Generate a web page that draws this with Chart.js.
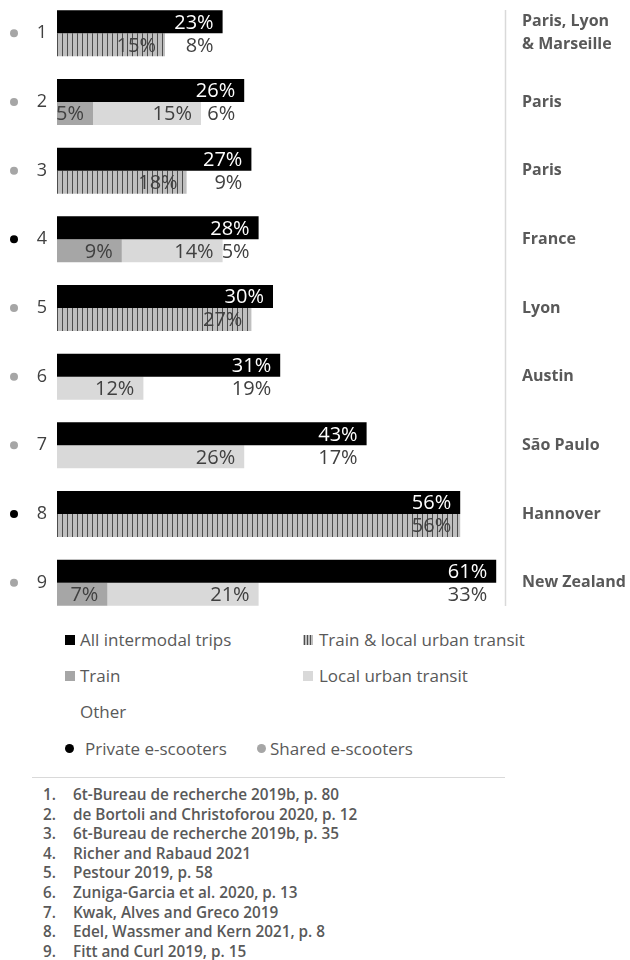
<!DOCTYPE html>
<html>
<head>
<meta charset="utf-8">
<script src="https://cdn.jsdelivr.net/npm/chart.js@4/dist/chart.umd.min.js"></script>
<style>
  body { margin: 0; width: 630px; height: 960px; background: #fff; font-family: "Open Sans", sans-serif; color: #595959; position: relative; overflow: hidden; }
  #chart { position: absolute; left: 0; top: -1px; }
  .lg { position: absolute; font-size: 17px; line-height: 20px; white-space: nowrap; }
  .sw { position: absolute; width: 10px; height: 10px; }
  .sw canvas { display: block; }
  .dot { position: absolute; width: 9px; height: 9px; border-radius: 50%; }
  #sep { position: absolute; left: 32px; top: 777px; width: 473px; height: 0; border-top: 1.5px solid #d9d9d9; }
  #notes { position: absolute; left: 0; top: 785px; margin: 0; padding: 0; list-style: none; font-size: 15.3px; font-weight: 600; line-height: 19.6px; color: #595959; }
  #notes li { position: relative; padding-left: 73px; white-space: nowrap; }
  #notes li span { position: absolute; left: 43px; }
</style>
</head>
<body>
<canvas id="chart" width="630" height="618"></canvas>

<div class="sw" style="left:65px;top:635px;background:#000"></div>
<div class="lg" style="left:80px;top:630px">All intermodal trips</div>
<div class="sw" id="hatchSw" style="left:303px;top:635px"></div>
<div class="lg" style="left:319px;top:630px">Train &amp; local urban transit</div>
<div class="sw" style="left:65px;top:671px;background:#a6a6a6"></div>
<div class="lg" style="left:80px;top:666px">Train</div>
<div class="sw" style="left:303px;top:671px;background:#d9d9d9"></div>
<div class="lg" style="left:319px;top:666px">Local urban transit</div>
<div class="lg" style="left:80px;top:702px">Other</div>
<div class="dot" style="left:65px;top:744px;background:#000"></div>
<div class="lg" style="left:85px;top:739px">Private e-scooters</div>
<div class="dot" style="left:257px;top:744px;background:#a6a6a6"></div>
<div class="lg" style="left:270px;top:739px">Shared e-scooters</div>

<div id="sep"></div>
<ol id="notes"></ol>

<script>
// categories / data
const rows = ['1', '2', '3', '4', '5', '6', '7', '8', '9'];
const places = [['Paris, Lyon', '& Marseille'], 'Paris', 'Paris', 'France', 'Lyon', 'Austin', 'São Paulo', 'Hannover', 'New Zealand'];
const privateScooter = [false, false, false, true, false, false, false, true, false];
const allTrips = [23, 26, 27, 28, 30, 31, 43, 56, 61];
const trainLocal = [15, null, 18, null, 27, null, null, 56, null];
const train = [null, 5, null, 9, null, null, null, null, 7];
const localTransit = [null, 15, null, 14, null, 12, 26, null, 21];
const other = [8, 6, 9, 5, null, 19, 17, null, 33];
const sources = [
  '6t-Bureau de recherche 2019b, p. 80',
  'de Bortoli and Christoforou 2020, p. 12',
  '6t-Bureau de recherche 2019b, p. 35',
  'Richer and Rabaud 2021',
  'Pestour 2019, p. 58',
  'Zuniga-Garcia et al. 2020, p. 13',
  'Kwak, Alves and Greco 2019',
  'Edel, Wassmer and Kern 2021, p. 8',
  'Fitt and Curl 2019, p. 15'
];

// footnotes
let notes = document.getElementById('notes');
sources.forEach((s, i) => {
  let li = document.createElement('li');
  li.innerHTML = '<span>' + (i + 1) + '.</span>' + s;
  notes.appendChild(li);
});

// hatch pattern for train & local transit
function makeHatch(w, h) {
  let c = document.createElement('canvas');
  c.width = w; c.height = h;
  let g = c.getContext('2d');
  g.fillStyle = '#bfbfbf';
  g.fillRect(0, 0, w, h);
  g.fillStyle = '#4d4d4d';
  g.fillRect(2, 0, 1, h);
  return c;
}
let ctx = document.getElementById('chart').getContext('2d');
let hatch = ctx.createPattern(makeHatch(5, 10), 'repeat');
let swc = document.createElement('canvas');
swc.width = 10; swc.height = 10;
let sg = swc.getContext('2d');
sg.fillStyle = '#bfbfbf';
sg.fillRect(0, 0, 10, 10);
sg.fillStyle = '#4d4d4d';
[1, 4, 7].forEach(x => sg.fillRect(x, 0, 1, 10));
document.getElementById('hatchSw').appendChild(swc);

// value labels inside the end of each bar segment
const valueLabels = {
  id: 'valueLabels',
  afterDatasetsDraw(chart) {
    const c = chart.ctx;
    c.save();
    c.font = '20px "Open Sans"';
    c.textAlign = 'right';
    c.textBaseline = 'middle';
    chart.data.datasets.forEach((ds, di) => {
      const meta = chart.getDatasetMeta(di);
      meta.data.forEach((bar, i) => {
        const v = ds.data[i];
        if (v === null || v === undefined) return;
        c.fillStyle = di === 0 ? '#ffffff' : '#404040';
        c.fillText(v + '%', bar.x - 9, bar.y + 1);
      });
    });
    c.restore();
  }
};

// scooter dots on the left and divider line on the right
const extras = {
  id: 'extras',
  afterDraw(chart) {
    const c = chart.ctx;
    const y = chart.scales.y;
    c.save();
    rows.forEach((r, i) => {
      c.beginPath();
      c.arc(14, y.getPixelForValue(i), 4, 0, Math.PI * 2);
      c.fillStyle = privateScooter[i] ? '#000000' : '#a6a6a6';
      c.fill();
    });
    c.strokeStyle = '#d9d9d9';
    c.lineWidth = 1.5;
    c.beginPath();
    c.moveTo(505.5, 11);
    c.lineTo(505.5, 607);
    c.stroke();
    c.restore();
  }
};

function fitSide(w) {
  return function (scale) {
    scale.width = w;
    scale.paddingTop = 0;
    scale.paddingBottom = 0;
  };
}

let myChart = new Chart(ctx, {
  type: 'bar',
  data: {
    labels: rows,
    datasets: [
      { label: 'All intermodal trips', data: allTrips, stack: 'all', backgroundColor: '#000000' },
      { label: 'Train & local urban transit', data: trainLocal, stack: 'split', backgroundColor: hatch },
      { label: 'Train', data: train, stack: 'split', backgroundColor: '#a6a6a6' },
      { label: 'Local urban transit', data: localTransit, stack: 'split', backgroundColor: '#d9d9d9' },
      { label: 'Other', data: other, stack: 'split', backgroundColor: 'rgba(255,255,255,0)' }
    ]
  },
  options: {
    indexAxis: 'y',
    responsive: false,
    animation: false,
    layout: { padding: 0 },
    categoryPercentage: 0.67,
    barPercentage: 1,
    plugins: { legend: { display: false }, tooltip: { enabled: false } },
    scales: {
      x: { display: false, stacked: true, min: 0, max: 62.36 },
      y: {
        grid: { display: false, drawTicks: false },
        border: { display: false },
        ticks: { color: '#404040', font: { family: 'Open Sans', size: 18 }, padding: 10 },
        afterFit: fitSide(57)
      },
      y2: {
        type: 'category',
        labels: places,
        position: 'right',
        offset: true,
        grid: { display: false, drawTicks: false },
        border: { display: false },
        ticks: { color: '#595959', font: { family: 'Open Sans', size: 16, weight: 'bold', lineHeight: 1.45 }, padding: 16 },
        afterFit: fitSide(124)
      }
    }
  },
  plugins: [valueLabels, extras]
});
</script>
</body>
</html>
